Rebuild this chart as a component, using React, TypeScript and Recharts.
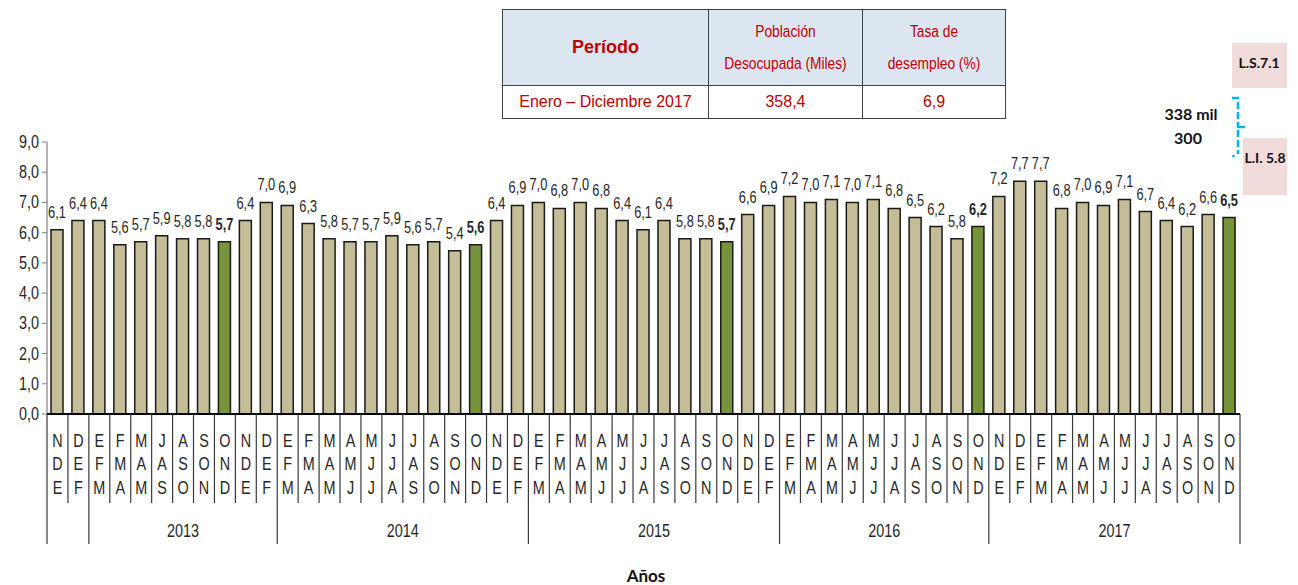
import React from 'react';
import { BarChart, Bar, XAxis, YAxis, Cell, LabelList } from 'recharts';

const periods = [
  'NDE', 'DEF',
  'EFM', 'FMA', 'MAM', 'JAS', 'ASO', 'SON', 'OND', 'NDE', 'DEF',
  'EFM', 'FMA', 'MAM', 'AMJ', 'MJJ', 'JJA', 'JAS', 'ASO', 'SON', 'OND', 'NDE', 'DEF',
  'EFM', 'FMA', 'MAM', 'AMJ', 'MJJ', 'JJA', 'JAS', 'ASO', 'SON', 'OND', 'NDE', 'DEF',
  'EFM', 'FMA', 'MAM', 'AMJ', 'MJJ', 'JJA', 'JAS', 'ASO', 'SON', 'OND',
  'NDE', 'DEF', 'EFM', 'FMA', 'MAM', 'AMJ', 'MJJ', 'JJA', 'JAS', 'ASO', 'SON', 'OND',
];

const rates = [
  6.1, 6.4,
  6.4, 5.6, 5.7, 5.9, 5.8, 5.8, 5.7, 6.4, 7.0,
  6.9, 6.3, 5.8, 5.7, 5.7, 5.9, 5.6, 5.7, 5.4, 5.6, 6.4, 6.9,
  7.0, 6.8, 7.0, 6.8, 6.4, 6.1, 6.4, 5.8, 5.8, 5.7, 6.6, 6.9,
  7.2, 7.0, 7.1, 7.0, 7.1, 6.8, 6.5, 6.2, 5.8, 6.2,
  7.2, 7.7, 7.7, 6.8, 7.0, 6.9, 7.1, 6.7, 6.4, 6.2, 6.6, 6.5,
];

const yearLabels = ['', '2013', '2014', '2015', '2016', '2017'];
const yearCounts = [2, 9, 12, 12, 10, 12];

const yTicks = [0, 1, 2, 3, 4, 5, 6, 7, 8, 9];

const tableHeader = ['Período', 'Población\nDesocupada (Miles)', 'Tasa de\ndesempleo (%)'];
const tableRow = ['Enero – Diciembre 2017', '358,4', '6,9'];

const data = periods.map((p, i) => ({ idx: i, period: p, rate: rates[i] }));

const W = 1298;
const H = 585;
const LEFT = 47;
const RIGHT = 1240;
const TOP = 142;
const BOTTOM = 414;
const BAND = (RIGHT - LEFT) / periods.length;

const groupStarts: number[] = [];
{
  let s = 0;
  yearCounts.forEach((c) => {
    groupStarts.push(s);
    s += c;
  });
}

const fmt = (v: number) => v.toFixed(1).replace('.', ',');
const SANS = '"Liberation Sans", Arial, sans-serif';
const SQ = 0.8;

const NText = ({ x, y, size, anchor = 'middle', bold = false, children }: any) => (
  <text
    transform={`translate(${x},${y}) scale(${SQ},1)`}
    x={0}
    y={0}
    textAnchor={anchor}
    fontFamily={SANS}
    fontSize={size}
    fontWeight={bold ? 'bold' : 'normal'}
    fill="#262626"
  >
    {children}
  </text>
);

const YTick = (props: any) => {
  const { x, y, payload } = props;
  return (
    <NText x={x} y={Number(y) + 6} size={18} anchor="end">
      {fmt(Number(payload.value))}
    </NText>
  );
};

const CatTick = (props: any) => {
  const { x, y, payload } = props;
  const i = Number(payload.value);
  const p = periods[i];
  const left = x - BAND / 2;
  const right = x + BAND / 2;
  const g = groupStarts.indexOf(i);
  const isStart = g >= 0;
  const isLast = i === periods.length - 1;
  return (
    <g>
      <line x1={left} x2={left} y1={y} y2={isStart ? y + 130 : y + 89} stroke="#3a3a3a" strokeWidth={1.2} />
      {isLast && <line x1={right} x2={right} y1={y} y2={y + 130} stroke="#3a3a3a" strokeWidth={1.2} />}
      {p.split('').map((ch, k) => (
        <NText key={k} x={x} y={y + 32.5 + k * 23.5} size={18}>
          {ch}
        </NText>
      ))}
      {isStart && yearLabels[g] && (
        <NText x={left + (yearCounts[g] * BAND) / 2} y={y + 123} size={18}>
          {yearLabels[g]}
        </NText>
      )}
    </g>
  );
};

const renderLabel = (props: any) => {
  const { x, y, width, value, index } = props;
  const bold = periods[index] === 'OND';
  return (
    <NText x={Number(x) + Number(width) / 2} y={Number(y) - 12} size={16} bold={bold}>
      {fmt(Number(value))}
    </NText>
  );
};

const cellStyle: React.CSSProperties = {
  border: '1.5px solid #404040',
  color: '#C00000',
  textAlign: 'center',
  verticalAlign: 'middle',
  padding: 0,
  fontFamily: SANS,
};

export default function App() {
  return (
    <div style={{ position: 'absolute', left: 0, top: 0, width: W, height: H, background: '#fff', overflow: 'hidden' }}>
      <BarChart
        width={W}
        height={H}
        data={data}
        margin={{ top: TOP, right: W - RIGHT, bottom: 0, left: 0 }}
        barCategoryGap={0}
      >
        <YAxis
          width={LEFT}
          domain={[0, 9]}
          ticks={yTicks}
          interval={0}
          axisLine={{ stroke: '#808080', strokeWidth: 1.2 }}
          tickLine={{ stroke: '#808080' }}
          tickSize={5}
          tickMargin={3}
          tick={<YTick />}
        />
        <XAxis
          dataKey="idx"
          type="category"
          height={H - BOTTOM}
          interval={0}
          tickLine={false}
          tickSize={0}
          tickMargin={0}
          axisLine={{ stroke: '#000', strokeWidth: 2 }}
          tick={<CatTick />}
        />
        <Bar dataKey="rate" barSize={12} stroke="#1a1a1a" strokeWidth={1.5} isAnimationActive={false}>
          {data.map((d) => (
            <Cell key={d.idx} fill={d.period === 'OND' ? '#77933C' : '#C4BD97'} />
          ))}
          <LabelList dataKey="rate" content={renderLabel} />
        </Bar>
      </BarChart>

      <table
        style={{
          position: 'absolute',
          left: 502,
          top: 9,
          width: 500,
          height: 109,
          borderCollapse: 'collapse',
          tableLayout: 'fixed',
        }}
      >
        <tbody>
          <tr style={{ height: 76, background: '#DCE6F1' }}>
            <td style={{ ...cellStyle, width: 205, fontWeight: 'bold', fontSize: 18 }}>{tableHeader[0]}</td>
            {tableHeader.slice(1).map((h, k) => (
              <td key={k} style={{ ...cellStyle, width: k === 0 ? 153 : 142, fontSize: 16, lineHeight: '32px' }}>
                {h.split('\n').map((line, j) => (
                  <div key={j} style={{ transform: 'scaleX(0.86)', whiteSpace: 'nowrap' }}>
                    {line}
                  </div>
                ))}
              </td>
            ))}
          </tr>
          <tr style={{ height: 33 }}>
            {tableRow.map((t, k) => (
              <td key={k} style={{ ...cellStyle, fontSize: 16 }}>
                {t}
              </td>
            ))}
          </tr>
        </tbody>
      </table>

      <svg width={W} height={H} style={{ position: 'absolute', left: 0, top: 0, pointerEvents: 'none' }}>
        <rect x={1232} y={43} width={55} height={45} fill="#F2DCDB" />
        <text x={1259} y={68} textAnchor="middle" fontFamily="Lato, sans-serif" fontWeight="bold" fontSize={14} fill="#111">
          L.S.7.1
        </text>
        <rect x={1243} y={138} width={44} height={57} fill="#F2DCDB" />
        <text x={1265} y={163} textAnchor="middle" fontFamily="Lato, sans-serif" fontWeight="bold" fontSize={14} fill="#111">
          L.I. 5.8
        </text>
        <text x={1191} y={120} textAnchor="middle" fontFamily="Lato, sans-serif" fontWeight="bold" fontSize={16} fill="#111">
          338 mil
        </text>
        <text x={1188} y={144} textAnchor="middle" fontFamily="Lato, sans-serif" fontWeight="bold" fontSize={16} fill="#111">
          300
        </text>
        <g fill="none" stroke="#00B0F0" strokeWidth={2.5}>
          <path d="M1232 98 L1238 98 L1238 124" strokeDasharray="7 3" />
          <path d="M1238 124 L1238 127 L1245 127" />
          <path d="M1238 130 L1238 154" strokeDasharray="7 3" />
          <path d="M1233 155 L1234 157" />
        </g>
        <text x={646} y={582} textAnchor="middle" fontFamily="Lato, sans-serif" fontWeight="bold" fontSize={17} fill="#111">
          Años
        </text>
      </svg>
    </div>
  );
}
